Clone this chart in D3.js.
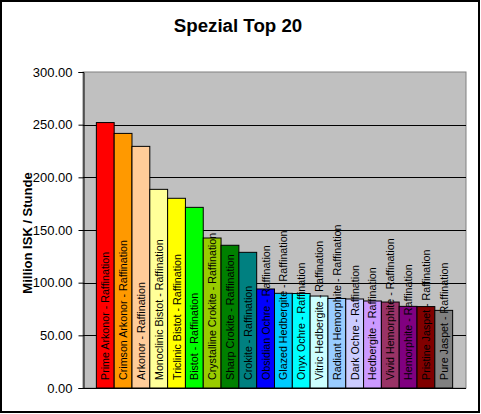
<!DOCTYPE html>
<html><head><meta charset="utf-8">
<script src="https://cdn.jsdelivr.net/npm/d3@7/dist/d3.min.js"></script>
<style>body{margin:0;background:#fff}svg{display:block}</style>
</head><body>
<script>
const categories = ["Prime Arkonor","Crimson Arkonor","Arkonor","Monoclinic Bistot","Triclinic Bistot","Bistot","Crystalline Crokite","Sharp Crokite","Crokite","Obsidian Ochre","Glazed Hedbergite","Onyx Ochre","Vitric Hedbergite","Radiant Hemorphite","Dark Ochre","Hedbergite","Vivid Hemorphite","Hemorphite","Pristine Jaspet","Pure Jaspet"];
const values = [252, 241.7, 229.4, 188.6, 180.1, 171.5, 142.4, 135.5, 128.8, 94.0, 89.9, 89.7, 87.3, 85.0, 84.5, 82.6, 81.6, 77.5, 77.3, 73.7];
const colors = ["#FF0000","#FF9900","#FFCC99","#FFFF99","#FFFF00","#00FF00","#99CC00","#008000","#008080","#0000FF","#00CCFF","#00FFFF","#CCFFFF","#99CCFF","#CCCCFF","#CC99FF","#993366","#800080","#800000","#808080"];
const yTicks = [0,50,100,150,200,250,300];
const suffix = " - Raffination";

const W=481,H=414;
const plot={l:83,t:72,r:466,b:388};
const svg=d3.select("body").append("svg").attr("width",W).attr("height",H);
svg.append("rect").attr("x",1).attr("y",1).attr("width",W-3).attr("height",H-3).attr("fill","#fff").attr("stroke","#000").attr("stroke-width",2);

const x=d3.scaleBand().domain(categories).range([plot.l,plot.r]).paddingInner(0).paddingOuter(0.75);
const y=d3.scaleLinear().domain([0,300]).range([plot.b,plot.t]);

svg.append("rect").attr("x",plot.l).attr("y",plot.t).attr("width",plot.r-plot.l).attr("height",plot.b-plot.t).attr("fill","#C0C0C0").attr("stroke","#808080").attr("stroke-width",1);

// gridlines
svg.append("g").selectAll("line").data(yTicks.filter(d=>d>0&&d<300)).join("line")
  .attr("x1",plot.l).attr("x2",plot.r).attr("y1",d=>Math.round(y(d))+0.5).attr("y2",d=>Math.round(y(d))+0.5)
  .attr("stroke","#000").attr("stroke-width",1);

// bars
svg.append("g").selectAll("rect").data(categories).join("rect")
  .attr("x",d=>x(d)).attr("width",x.bandwidth())
  .attr("y",(d,i)=>y(values[i])).attr("height",(d,i)=>plot.b-y(values[i]))
  .attr("fill",(d,i)=>colors[i]).attr("stroke","#000").attr("stroke-width",1);

// labels
svg.append("g").selectAll("text").data(categories).join("text")
  .attr("transform",d=>`translate(${x(d)+x.bandwidth()/2+4},${plot.b-8}) rotate(-90)`)
  .attr("font-family","Liberation Sans, Arial, sans-serif").attr("font-size",10.7)
  .attr("fill","#000").text(d=>d+suffix);

// y axis
const ya=svg.append("g").attr("transform",`translate(${plot.l+0.5},0)`)
  .call(d3.axisLeft(y).tickValues(yTicks).tickFormat(d3.format(".2f")).tickSize(5).tickPadding(6));
ya.select(".domain").attr("stroke","#000");
ya.selectAll("line").attr("stroke","#000");
ya.selectAll("text").attr("font-family","Liberation Sans, Arial, sans-serif").attr("font-size",13).attr("fill","#000");

// x axis line
svg.append("line").attr("x1",plot.l).attr("x2",plot.r).attr("y1",plot.b+0.5).attr("y2",plot.b+0.5).attr("stroke","#000");

// title
svg.append("text").attr("x",238).attr("y",32).attr("text-anchor","middle")
  .attr("font-family","Liberation Sans, Arial, sans-serif").attr("font-weight","bold").attr("font-size",18.7).text("Spezial Top 20");
svg.append("text").attr("transform",`translate(32,233) rotate(-90)`).attr("text-anchor","middle")
  .attr("font-family","Liberation Sans, Arial, sans-serif").attr("font-weight","bold").attr("font-size",13).text("Million ISK / Stunde");
</script>
</body></html>
